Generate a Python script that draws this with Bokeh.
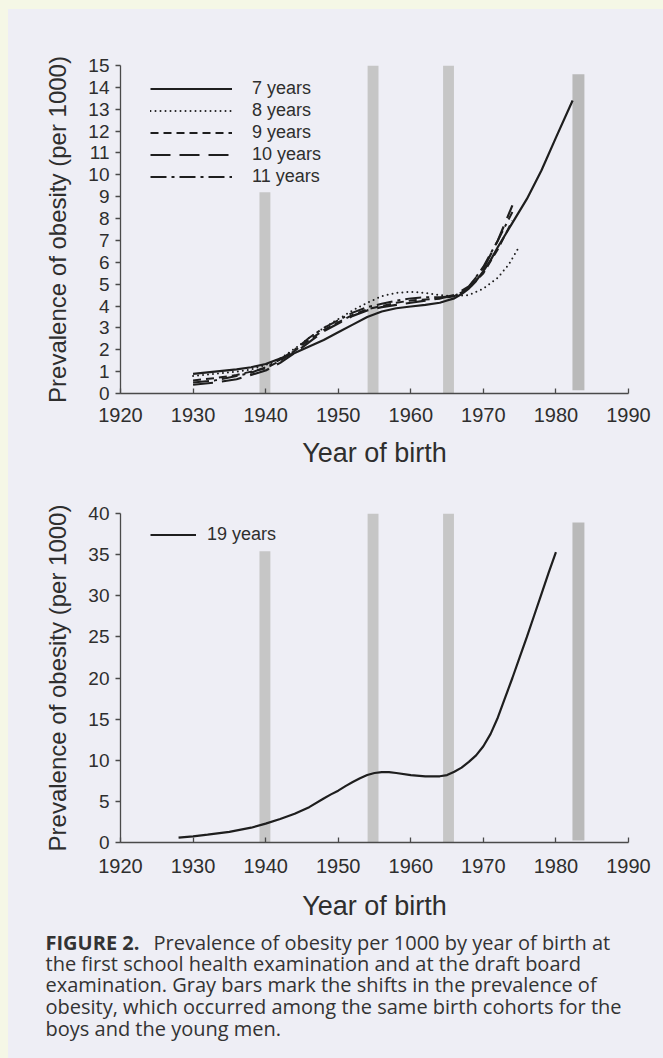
from bokeh.plotting import figure
from bokeh.models import Legend, LegendItem, Range1d, FixedTicker, Label, Spacer
from bokeh.layouts import column, row
from bokeh.embed import file_html
from bokeh.resources import INLINE

# ---------------- data ----------------
years_7 = [1930, 1933, 1936, 1938, 1940, 1942, 1944, 1946, 1948, 1950, 1952, 1954, 1956,
           1958, 1960, 1962, 1964, 1965, 1966, 1967, 1968, 1969, 1970, 1971, 1972, 1974,
           1976, 1978, 1980, 1982.3]
prev_7 = [0.9, 1.0, 1.1, 1.2, 1.35, 1.6, 1.85, 2.15, 2.45, 2.8, 3.15, 3.5, 3.75,
          3.9, 3.98, 4.05, 4.15, 4.25, 4.35, 4.55, 4.8, 5.15, 5.6, 6.1, 6.7, 7.8,
          8.9, 10.2, 11.7, 13.4]

years_8 = [1930, 1933, 1936, 1938, 1940, 1942, 1944, 1946, 1948, 1950, 1952, 1954, 1956,
           1958, 1960, 1962, 1964, 1966, 1968, 1970, 1972, 1973.5, 1975]
prev_8 = [0.8, 0.9, 1.0, 1.1, 1.3, 1.6, 2.05, 2.55, 3.0, 3.4, 3.8, 4.15, 4.45,
          4.6, 4.65, 4.6, 4.5, 4.45, 4.5, 4.8, 5.3, 5.9, 6.75]

years_9 = [1930, 1933, 1936, 1938, 1940, 1942, 1944, 1946, 1948, 1950, 1952, 1954, 1956,
           1958, 1960, 1962, 1964, 1966, 1968, 1970, 1972, 1974]
prev_9 = [0.6, 0.7, 0.85, 1.0, 1.15, 1.5, 1.95, 2.45, 2.9, 3.25, 3.6, 3.85, 4.0,
          4.15, 4.25, 4.3, 4.35, 4.45, 4.8, 5.5, 6.6, 7.9]

years_10 = [1930, 1933, 1936, 1938, 1940, 1942, 1944, 1946, 1948, 1950, 1952, 1954, 1956,
            1958, 1960, 1962, 1964, 1966, 1968, 1970, 1972, 1974]
prev_10 = [0.4, 0.5, 0.65, 0.85, 1.05, 1.4, 1.85, 2.35, 2.85, 3.2, 3.55, 3.8, 3.95,
           4.05, 4.15, 4.25, 4.35, 4.5, 4.9, 5.7, 7.0, 8.6]

years_11 = [1930, 1933, 1936, 1938, 1940, 1942, 1944, 1946, 1948, 1950, 1952, 1954, 1956,
            1958, 1960, 1962, 1964, 1966, 1968, 1970, 1972, 1974]
prev_11 = [0.5, 0.6, 0.8, 0.95, 1.2, 1.55, 2.0, 2.55, 3.0, 3.35, 3.7, 3.95, 4.1,
           4.25, 4.35, 4.4, 4.4, 4.45, 4.85, 5.8, 7.0, 8.3]

years_19 = [1928, 1930, 1932, 1935, 1938, 1940, 1942, 1944, 1946, 1948, 1949, 1950, 1951,
            1952, 1953, 1954, 1955, 1956, 1957, 1958, 1960, 1962, 1964, 1965, 1966, 1967,
            1968, 1969, 1970, 1971, 1972, 1973, 1974, 1975, 1976, 1977, 1978, 1979, 1980]
prev_19 = [0.6, 0.75, 0.95, 1.3, 1.8, 2.3, 2.85, 3.5, 4.3, 5.35, 5.85, 6.3, 6.85,
           7.35, 7.8, 8.2, 8.45, 8.55, 8.55, 8.45, 8.2, 8.05, 8.05, 8.2, 8.6, 9.1,
           9.8, 10.6, 11.7, 13.2, 15.2, 17.6, 20.0, 22.5, 25.0, 27.6, 30.2, 32.8, 35.3]

shift_years = [1939.9, 1954.8, 1965.2]
shift_top_boys = [9.2, 15, 15]
shift_top_men = [35.4, 40, 40]
last_year = [1983.1]
last_top_boys = [14.6]
last_top_men = [38.9]
last_bottom_boys = [0.15]
last_bottom_men = [0.25]

x_ticks = [1920, 1930, 1940, 1950, 1960, 1970, 1980, 1990]
y_ticks_boys = list(range(0, 16))
y_ticks_men = [0, 5, 10, 15, 20, 25, 30, 35, 40]

caption_bold = "FIGURE 2."
caption_lines = [
    "Prevalence of obesity per 1000 by year of birth at",
    "the first school health examination and at the draft board",
    "examination. Gray bars mark the shifts in the prevalence of",
    "obesity, which occurred among the same birth cohorts for the",
    "boys and the young men.",
]

# ---------------- styling ----------------
BG = "#eeeef5"
EDGE = "#f5f7e6"
INK = "#1e1e1e"
TXT = "#2e2e2e"
FONT = "Liberation Sans"


def make_fig(height, top, bottom, ymax, yticks, lab_so, title_so):
    p = figure(width=655, height=height, x_range=Range1d(1920, 1990),
               y_range=Range1d(0, ymax), output_backend="svg", toolbar_location=None,
               min_border_left=112, min_border_right=35, min_border_top=top,
               min_border_bottom=bottom)
    p.background_fill_color = BG
    p.border_fill_color = BG
    p.outline_line_color = None
    p.xgrid.visible = False
    p.ygrid.visible = False
    for ax in (p.xaxis[0], p.yaxis[0]):
        ax.axis_line_color = "#4a4a4a"
        ax.axis_line_width = 1.3
        ax.major_tick_line_color = "#4a4a4a"
        ax.major_tick_line_width = 1.3
        ax.minor_tick_line_color = None
        ax.major_label_text_font = FONT
        ax.major_label_text_color = TXT
        ax.axis_label_text_font = FONT
        ax.axis_label_text_font_style = "normal"
        ax.axis_label_text_color = TXT
    xa = p.xaxis[0]
    xa.ticker = FixedTicker(ticks=x_ticks)
    xa.major_tick_in = 5
    xa.major_tick_out = 0
    xa.major_label_text_font_size = "20px"
    xa.major_label_standoff = lab_so
    xa.axis_label = "Year of birth"
    xa.axis_label_text_font_size = "27px"
    xa.axis_label_standoff = title_so
    ya = p.yaxis[0]
    ya.ticker = FixedTicker(ticks=yticks)
    ya.major_tick_in = 0
    ya.major_tick_out = 5
    ya.major_label_text_font_size = "19px"
    ya.major_label_standoff = 6
    ya.axis_label = "Prevalence of obesity (per 1000)"
    ya.axis_label_text_font_size = "24px"
    ya.axis_label_standoff = 14
    return p


def style_legend(leg, glyph_w, standoff):
    leg.label_text_font = FONT
    leg.label_text_font_size = "18px"
    leg.label_text_color = TXT
    leg.glyph_width = glyph_w
    leg.glyph_height = 19
    leg.label_height = 19
    leg.label_standoff = standoff
    leg.spacing = 1
    leg.padding = 0
    leg.margin = 0
    leg.border_line_color = None
    leg.background_fill_alpha = 0


# ---------------- top chart (boys) ----------------
p1 = make_fig(464, 56, 80, 15, y_ticks_boys, 14, 13)
p1.vbar(x=shift_years, width=1.5, top=shift_top_boys, bottom=0,
        fill_color="#c6c6c6", line_color=None)
p1.vbar(x=last_year, width=1.65, top=last_top_boys, bottom=last_bottom_boys,
        fill_color="#b9b9b9", line_color=None)

r7 = p1.line(years_7, prev_7, line_color=INK, line_width=2.2)
r8 = p1.line(years_8, prev_8, line_color=INK, line_width=2, line_dash="0 5", line_cap="round")
r9 = p1.line(years_9, prev_9, line_color=INK, line_width=2, line_dash="8 5")
r10 = p1.line(years_10, prev_10, line_color=INK, line_width=2.2, line_dash="20 9")
r11 = p1.line(years_11, prev_11, line_color=INK, line_width=2, line_dash="16 5 3 5")

leg1 = Legend(items=[LegendItem(label="7 years", renderers=[r7]),
                     LegendItem(label="8 years", renderers=[r8]),
                     LegendItem(label="9 years", renderers=[r9]),
                     LegendItem(label="10 years", renderers=[r10]),
                     LegendItem(label="11 years", renderers=[r11])],
              location=(30, 206))
style_legend(leg1, 82, 20)
p1.add_layout(leg1)

# ---------------- bottom chart (young men) ----------------
p2 = make_fig(455, 40, 86, 40, y_ticks_men, 16, 15)
p2.vbar(x=shift_years, width=1.5, top=shift_top_men, bottom=0,
        fill_color="#c6c6c6", line_color=None)
p2.vbar(x=last_year, width=1.65, top=last_top_men, bottom=last_bottom_men,
        fill_color="#b9b9b9", line_color=None)
r19 = p2.line(years_19, prev_19, line_color=INK, line_width=2.2)
leg2 = Legend(items=[LegendItem(label="19 years", renderers=[r19])], location=(30, 297))
style_legend(leg2, 46, 11)
p2.add_layout(leg2)

# ---------------- caption ----------------
p3 = figure(width=655, height=130, x_range=Range1d(0, 655), y_range=Range1d(0, 130),
            output_backend="svg", toolbar_location=None, x_axis_type=None,
            y_axis_type=None, min_border=0, min_border_left=0, min_border_right=0,
            min_border_top=0, min_border_bottom=0)
p3.background_fill_color = BG
p3.border_fill_color = BG
p3.outline_line_color = None
p3.xgrid.visible = False
p3.ygrid.visible = False

CAP_FONT = "Open Sans"
CAP_SIZE = "20px"
line_y = [116, 95, 74, 52, 30]
p3.add_layout(Label(x=37, y=line_y[0], x_units="screen", y_units="screen", text=caption_bold,
                    text_font=CAP_FONT, text_font_size=CAP_SIZE, text_font_style="bold",
                    text_color="#333333", text_baseline="middle"))
for i, t in enumerate(caption_lines):
    p3.add_layout(Label(x=145 if i == 0 else 37, y=line_y[i], x_units="screen",
                        y_units="screen", text=t, text_font=CAP_FONT,
                        text_font_size=CAP_SIZE, text_color="#333333",
                        text_baseline="middle"))

top_part = row(Spacer(width=8, height=928, styles={"background-color": EDGE}),
               column(Spacer(width=655, height=9, styles={"background-color": EDGE}),
                      p1, p2, spacing=0), spacing=0)
bottom_part = row(Spacer(width=8, height=130, styles={"background-color": EDGE}), p3,
                  spacing=0)
layout = column(top_part, bottom_part, spacing=0)

html = file_html(layout, INLINE)
html = html.replace("<head>", "<head><style>html,body{background:#eeeef5;margin:0;}</style>", 1)
open("out.html", "w").write(html)
